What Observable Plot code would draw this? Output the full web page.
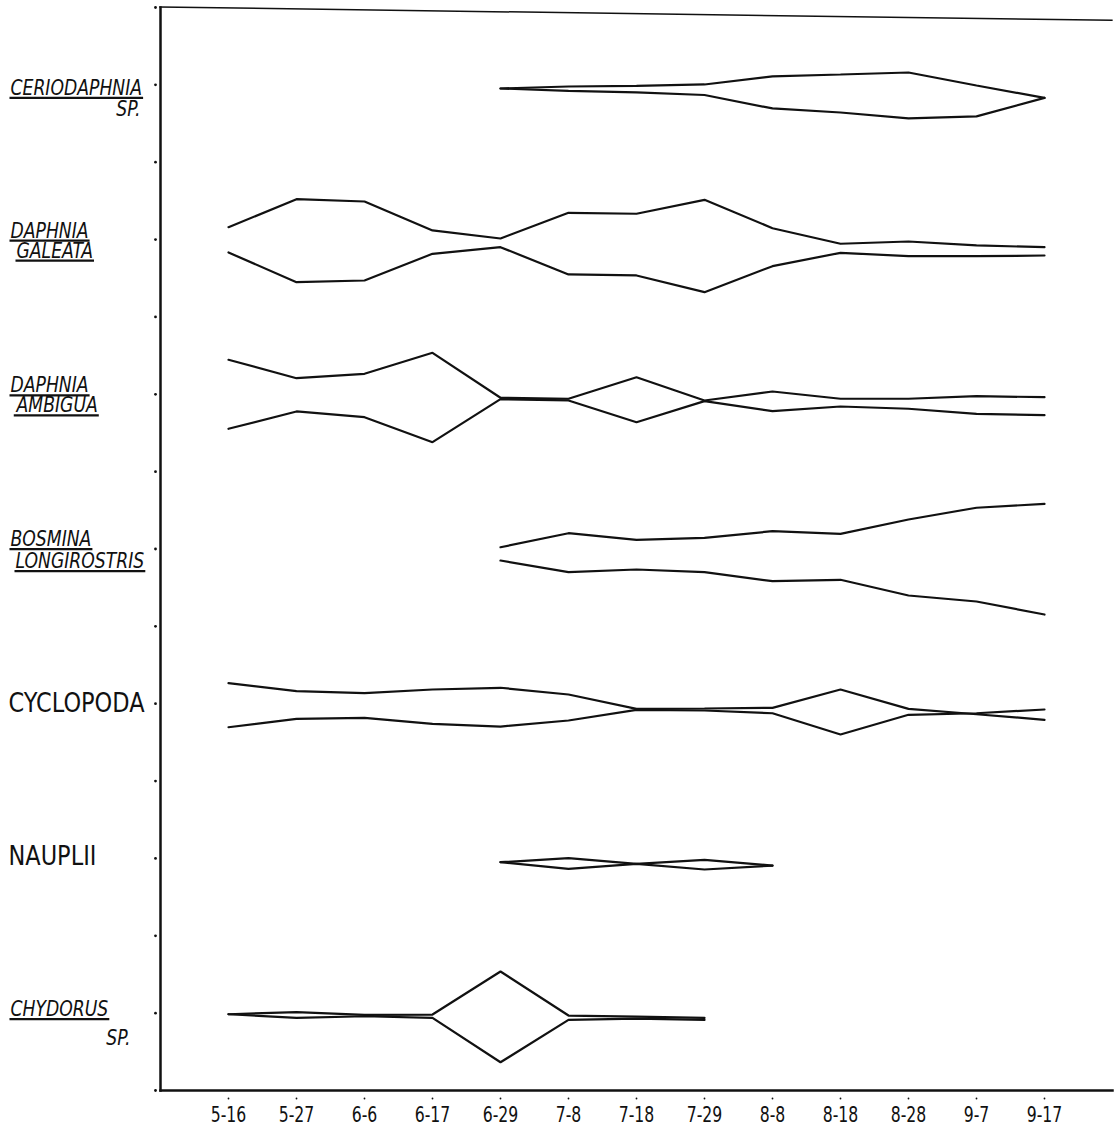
<!DOCTYPE html>
<html><head><meta charset="utf-8">
<script src="https://cdn.jsdelivr.net/npm/d3@7"></script>
<script src="https://cdn.jsdelivr.net/npm/@observablehq/plot@0.6"></script>
<style>
html,body{margin:0;padding:0;background:#fff;}
#chart svg{display:block;}
</style></head><body><div id="chart"></div>
<script>
// Sampling dates (x categories)
const dates = ["5-16","5-27","6-6","6-17","6-29","7-8","7-18","7-29","8-8","8-18","8-28","9-7","9-17"];

// Species label lines
const labelLine1 = ["CERIODAPHNIA","DAPHNIA","DAPHNIA","BOSMINA","CYCLOPODA","NAUPLII","CHYDORUS"];
const labelLine2 = ["SP.","GALEATA","AMBIGUA","LONGIROSTRIS","","","SP."];
const italicName = [true,true,true,true,false,false,true];

// Kite edges: upper / lower edge relative to each species' baseline (null = absent)
const ceriodaphniaUpper = [null,null,null,null,-0.47,-0.21,-0.14,0.05,1.09,1.34,1.60,-0.08,-1.69];
const ceriodaphniaLower = [null,null,null,null,-0.47,-0.79,-0.98,-1.31,-3.05,-3.57,-4.34,-4.08,-1.69];
const galeataUpper = [1.60,5.22,4.92,1.18,0.14,3.46,3.34,5.14,1.47,-0.54,-0.25,-0.76,-0.98];
const galeataLower = [-1.67,-5.51,-5.29,-1.84,-0.98,-4.51,-4.64,-6.80,-3.44,-1.71,-2.15,-2.15,-2.06];
const ambiguaUpper = [4.46,2.08,2.65,5.36,-0.45,-0.58,2.21,-0.80,0.36,-0.58,-0.58,-0.25,-0.37];
const ambiguaLower = [-4.46,-2.22,-2.96,-6.19,-0.63,-0.80,-3.61,-0.89,-2.18,-1.58,-1.87,-2.52,-2.70];
const bosminaUpper = [null,null,null,null,0.23,2.04,1.19,1.45,2.30,1.96,3.81,5.33,5.84];
const bosminaLower = [null,null,null,null,-1.49,-3.00,-2.65,-3.00,-4.16,-3.98,-6.01,-6.79,-8.47];
const cyclopodaUpper = [2.65,1.62,1.36,1.84,2.06,1.19,-0.66,-0.62,-0.53,1.84,-0.66,-1.36,-2.08];
const cyclopodaLower = [-3.04,-1.95,-1.82,-2.60,-2.95,-2.17,-0.79,-0.88,-1.23,-3.98,-1.43,-1.23,-0.75];
const naupliiUpper = [null,null,null,null,-0.49,0.03,-0.70,-0.18,-0.92,null,null,null,null];
const naupliiLower = [null,null,null,null,-0.49,-1.34,-0.70,-1.43,-0.92,null,null,null,null];
const chydorusUpper = [-0.14,0.12,-0.22,-0.18,5.38,-0.31,-0.44,-0.61,null,null,null,null,null];
const chydorusLower = [-0.14,-0.61,-0.40,-0.61,-6.35,-0.87,-0.70,-0.87,null,null,null,null,null];

const uppers = [ceriodaphniaUpper, galeataUpper, ambiguaUpper, bosminaUpper, cyclopodaUpper, naupliiUpper, chydorusUpper];
const lowers = [ceriodaphniaLower, galeataLower, ambiguaLower, bosminaLower, cyclopodaLower, naupliiLower, chydorusLower];

// each species sits on its own baseline, 20 units apart (axis 0..140)
const baseline = i => 130 - 20 * i;

const rows = [];
uppers.forEach((arr, i) => arr.forEach((v, j) => { if (v != null) rows.push({key: i + "u", date: dates[j], y: baseline(i) + v}); }));
lowers.forEach((arr, i) => arr.forEach((v, j) => { if (v != null) rows.push({key: i + "l", date: dates[j], y: baseline(i) + v}); }));

const labels = labelLine1.map((t, i) => ({i, line1: t, line2: labelLine2[i], y: baseline(i), italic: italicName[i]}));

const FONT = '"DejaVu Sans Condensed","DejaVu Sans","Liberation Sans",sans-serif';

// text layout per label (offsets in px)
const layout = [
  {dx1: -150, dy1: 3, dx2: -20, dy2: 24, a2: "end"},
  {dx1: -150, dy1: -9, dx2: -144, dy2: 11, a2: "start"},
  {dx1: -150, dy1: -9, dx2: -144, dy2: 11, a2: "start"},
  {dx1: -150, dy1: -10, dx2: -145, dy2: 12, a2: "start"},
  {dx1: -152, dy1: 0},
  {dx1: -152, dy1: -2},
  {dx1: -150, dy1: -4, dx2: -30, dy2: 25, a2: "end"}
];

const labelMarks = [];
labels.forEach((d, k) => {
  const L = layout[k];
  const common = {y: "y", frameAnchor: "left", fill: "#111", fontFamily: FONT};
  const tag1 = d.italic ? "underlined-label" : "upright-label";
  const tag2 = d.line2 === "SP." ? "plain-label" : "underlined-label";
  labelMarks.push(Plot.text([d], {...common, text: "line1", dx: L.dx1, dy: L.dy1, textAnchor: "start",
    fontSize: d.italic ? 22 : 26, fontStyle: d.italic ? "italic" : "normal",
    ariaLabel: () => tag1}));
  if (d.line2) labelMarks.push(Plot.text([d], {...common, text: "line2", dx: L.dx2, dy: L.dy2, textAnchor: L.a2,
    fontSize: 22, fontStyle: "italic", ariaLabel: () => tag2}));
});

const chart = Plot.plot({
  width: 1114, height: 1129,
  marginLeft: 160, marginRight: 2, marginTop: 7, marginBottom: 39,
  style: {background: "white", fontFamily: FONT, color: "#111"},
  x: {type: "point", domain: dates, padding: 0.99},
  y: {domain: [0, 140], axis: null},
  marks: [
    Plot.frame({anchor: "left", stroke: "#111", strokeWidth: 2.5}),
    Plot.frame({anchor: "bottom", stroke: "#111", strokeWidth: 2.5}),
    Plot.frame({anchor: "top", stroke: "#111", strokeWidth: 1.5}),
    Plot.dot(d3.range(0, 141, 10), {y: d => d, frameAnchor: "left", dx: -5, r: 1.4, fill: "#111", stroke: null}),
    Plot.dot(dates, {x: d => d, frameAnchor: "bottom", dy: 8, r: 0.9, fill: "#111", stroke: null}),
    Plot.axisX({tickSize: 0, tickPadding: 17, fontSize: 21, fill: "#111", label: null}),
    Plot.line(rows, {x: "date", y: "y", z: "key", stroke: "#111", strokeWidth: 2.2, strokeLinejoin: "miter"}),
    ...labelMarks
  ]
});
document.getElementById("chart").append(chart);

// the hand-drawn top border droops slightly to the right
const frames = chart.querySelectorAll('[aria-label="frame"]');
if (frames.length >= 3) frames[2].setAttribute("transform", "rotate(0.8 160 7)");

const sel = tag => `text[aria-label="${tag}"], g[aria-label="${tag}"] text`;

// narrow the lettering like the hand-lettered original
function condense(selector, f) {
  chart.querySelectorAll(selector).forEach(t => {
    const w = t.getComputedTextLength();
    t.setAttribute("textLength", (w * f).toFixed(1));
    t.setAttribute("lengthAdjust", "spacingAndGlyphs");
  });
}
condense(sel("underlined-label"), 0.87);
condense(sel("plain-label"), 0.87);
condense(sel("upright-label"), 0.96);
condense('g[aria-label="x-axis tick label"] text', 0.83);

// underline the Latin names (derive a line from each text box)
chart.querySelectorAll(sel("underlined-label")).forEach(t => {
  const b = t.getBBox();
  const yb = b.y + b.height * 0.8 + 3;
  const ln = document.createElementNS("http://www.w3.org/2000/svg", "line");
  ln.setAttribute("x1", b.x - 1);
  ln.setAttribute("x2", b.x + b.width + 1);
  ln.setAttribute("y1", yb);
  ln.setAttribute("y2", yb);
  ln.setAttribute("stroke", "#111");
  ln.setAttribute("stroke-width", "2.2");
  const tr = t.getAttribute("transform");
  if (tr) ln.setAttribute("transform", tr);
  t.parentNode.appendChild(ln);
});
</script></body></html>
